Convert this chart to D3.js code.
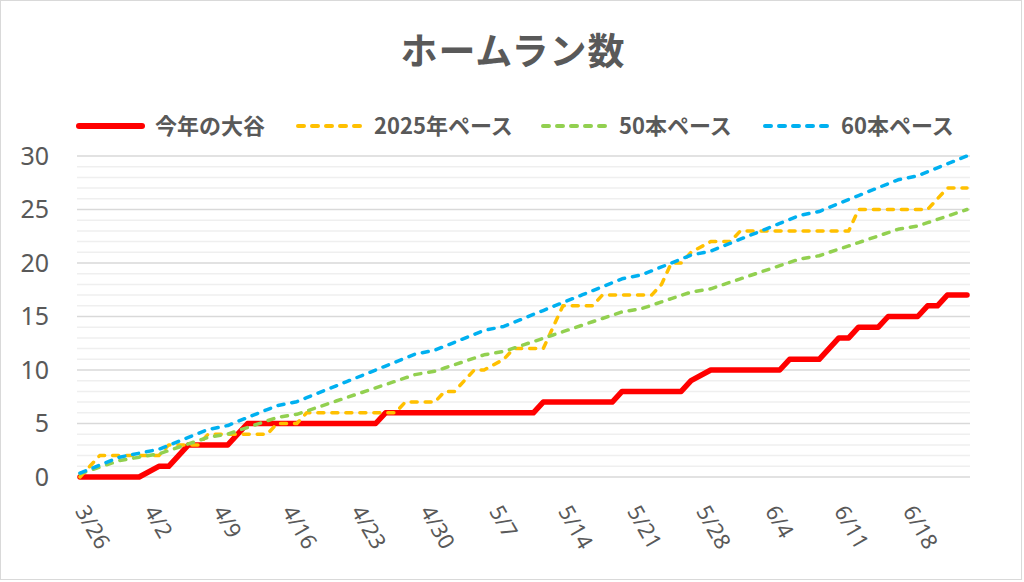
<!DOCTYPE html>
<html>
<head>
<meta charset="utf-8">
<script src="https://cdn.jsdelivr.net/npm/d3@7"></script>
<style>
  body { margin: 0; background: #fff; }
  svg { display: block; font-family: "Noto Sans CJK JP", "Noto Sans", sans-serif; }
</style>
</head>
<body>
<div id="chart"></div>
<script>
const title = 'ホームラン数';
const seriesNames = ['今年の大谷', '2025年ペース', '50本ペース', '60本ペース'];
const seriesColors = ['#ff0000', '#ffc000', '#92d050', '#00b0f0'];
const tickLabels = ['3/26', '4/2', '4/9', '4/16', '4/23', '4/30', '5/7', '5/14', '5/21', '5/28', '6/4', '6/11', '6/18'];
const yTicks = [0, 5, 10, 15, 20, 25, 30];

// game days (off days are skipped, the line just joins across them)
const gameDates = ['3/26', '3/27', '3/28', '3/29', '3/30', '4/1', '4/3', '4/4', '4/5', '4/6', '4/7', '4/8',
    '4/10', '4/11', '4/12', '4/13', '4/14', '4/15', '4/17', '4/18', '4/19', '4/20', '4/21', '4/22', '4/23',
    '4/24', '4/25', '4/26', '4/27', '4/28', '4/29', '5/1', '5/2', '5/3', '5/4', '5/5', '5/6', '5/8', '5/9',
    '5/10', '5/11', '5/12', '5/13', '5/14', '5/15', '5/16', '5/17', '5/18', '5/19', '5/20', '5/22', '5/23',
    '5/24', '5/25', '5/26', '5/27', '5/29', '5/30', '5/31', '6/1', '6/2', '6/3', '6/4', '6/5', '6/6', '6/7',
    '6/9', '6/10', '6/11', '6/12', '6/13', '6/14', '6/15', '6/16', '6/17', '6/19', '6/20', '6/21', '6/22',
    '6/23', '6/24'];

const otani = [0, 0, 0, 0, 0, 0, 1, 1, 2, 3, 3, 3, 3, 4, 5, 5, 5, 5,
    5, 5, 5, 5, 5, 5, 5, 5, 5, 6, 6, 6, 6, 6, 6, 6, 6, 6, 6,
    6, 6, 6, 6, 7, 7, 7, 7, 7, 7, 7, 7, 8, 8, 8, 8, 8, 8, 9,
    10, 10, 10, 10, 10, 10, 10, 10, 11, 11, 11, 12, 13, 13, 14, 14, 14, 15, 15,
    15, 16, 16, 17, 17, 17];

const pace2025 = [0, 1, 2, 2, 2, 2, 2, 3, 3, 3, 3, 4, 4, 4, 4, 4, 4, 5,
    5, 6, 6, 6, 6, 6, 6, 6, 6, 6, 6, 7, 7, 7, 8, 8, 9, 10, 10,
    11, 12, 12, 12, 12, 14, 16, 16, 16, 16, 17, 17, 17, 17, 17, 18, 20, 20, 21,
    22, 22, 22, 23, 23, 23, 23, 23, 23, 23, 23, 23, 23, 23, 25, 25, 25, 25, 25,
    25, 25, 26, 27, 27, 27];

const pace50 = [0.31, 0.62, 0.93, 1.23, 1.54, 1.85, 2.16, 2.47, 2.78, 3.09, 3.40, 3.70, 4.01, 4.32, 4.63,
    4.94, 5.25, 5.56, 5.86, 6.17, 6.48, 6.79, 7.10, 7.41, 7.72, 8.02, 8.33, 8.64, 8.95, 9.26, 9.57, 9.88,
    10.19, 10.49, 10.80, 11.11, 11.42, 11.73, 12.04, 12.35, 12.65, 12.96, 13.27, 13.58, 13.89, 14.20, 14.51,
    14.81, 15.12, 15.43, 15.74, 16.05, 16.36, 16.67, 16.98, 17.28, 17.59, 17.90, 18.21, 18.52, 18.83, 19.14,
    19.44, 19.75, 20.06, 20.37, 20.68, 20.99, 21.30, 21.60, 21.91, 22.22, 22.53, 22.84, 23.15, 23.46, 23.77,
    24.07, 24.38, 24.69, 25.00];

const pace60 = [0.37, 0.74, 1.11, 1.48, 1.85, 2.22, 2.59, 2.96, 3.33, 3.70, 4.07, 4.44, 4.81, 5.19, 5.56,
    5.93, 6.30, 6.67, 7.04, 7.41, 7.78, 8.15, 8.52, 8.89, 9.26, 9.63, 10.00, 10.37, 10.74, 11.11, 11.48, 11.85,
    12.22, 12.59, 12.96, 13.33, 13.70, 14.07, 14.44, 14.81, 15.19, 15.56, 15.93, 16.30, 16.67, 17.04, 17.41,
    17.78, 18.15, 18.52, 18.89, 19.26, 19.63, 20.00, 20.37, 20.74, 21.11, 21.48, 21.85, 22.22, 22.59, 22.96,
    23.33, 23.70, 24.07, 24.44, 24.81, 25.19, 25.56, 25.93, 26.30, 26.67, 27.04, 27.41, 27.78, 28.15, 28.52,
    28.89, 29.26, 29.63, 30.00];

const width = 1024;
const height = 582;
const plot = { left: 77, right: 970, top: 156, bottom: 477 };
const textColor = '#595959';

const parseDay = (s) => d3.utcParse('%Y/%m/%d')('2026/' + s);
const dates = gameDates.map(parseDay);

const svg = d3.select('#chart').append('svg').attr('width', width).attr('height', height);

svg.append('rect').attr('x', 0.5).attr('y', 0.5).attr('width', width - 3).attr('height', height - 3)
    .attr('fill', '#fff').attr('stroke', '#d9d9d9');

const xScale = d3.scaleUtc().domain(d3.extent(dates)).range([80, 967]);
const yScale = d3.scaleLinear().domain([0, 30]).range([plot.bottom, plot.top]);

// minor gridlines every 1, major every 5
const grid = svg.append('g').attr('class', 'grid');
grid.selectAll('line').data(d3.range(0, 31)).join('line')
    .attr('x1', plot.left).attr('x2', plot.right)
    .attr('y1', (d) => yScale(d)).attr('y2', (d) => yScale(d))
    .attr('stroke', (d) => d % 5 === 0 ? '#d9d9d9' : '#efefef')
    .attr('stroke-width', 1.5);

// y axis labels
const yAxis = svg.append('g').attr('transform', `translate(${plot.left - 28}, 0)`)
    .call(d3.axisLeft(yScale).tickValues(yTicks).tickSize(0).tickPadding(0));
yAxis.select('.domain').remove();
yAxis.selectAll('text').attr('fill', textColor).style('font-size', '25px')
    .style('font-family', '"Noto Sans", sans-serif');

// x axis labels, rotated
const xAxis = svg.append('g').attr('transform', `translate(0, ${plot.bottom})`)
    .call(d3.axisBottom(xScale).tickValues(tickLabels.map(parseDay)).tickSize(0)
        .tickFormat((d, i) => tickLabels[i]));
xAxis.select('.domain').remove();
xAxis.selectAll('text')
    .attr('fill', textColor).style('font-size', '22px')
    .style('font-family', '"Noto Sans", sans-serif')
    .attr('text-anchor', 'start').attr('dy', null).attr('y', 0)
    .attr('transform', 'translate(-6, 34) rotate(60)');

// lines
const allSeries = [otani, pace2025, pace50, pace60];
const line = d3.line().x((d) => xScale(d[0])).y((d) => yScale(d[1]));
const lines = svg.append('g').attr('class', 'lines');
allSeries.forEach((values, i) => {
    lines.append('path')
        .datum(values.map((v, j) => [dates[j], v]))
        .attr('d', line)
        .attr('fill', 'none')
        .attr('stroke', seriesColors[i])
        .attr('stroke-width', i === 0 ? 5.5 : 3.5)
        .attr('stroke-linejoin', 'round')
        .attr('stroke-linecap', 'round')
        .attr('stroke-dasharray', i === 0 ? null : '6,8');
});

// title
svg.append('text').attr('x', width / 2 + 1).attr('y', 65).attr('text-anchor', 'middle')
    .attr('fill', textColor).style('font-size', '37px').style('font-weight', 'bold')
    .style('letter-spacing', '1px')
    .text(title);

// legend
const legendX = [78, 297, 542, 764];
const legend = svg.append('g').attr('transform', 'translate(0, 126)');
seriesNames.forEach((name, i) => {
    const g = legend.append('g').attr('transform', `translate(${legendX[i]}, 0)`);
    g.append('line').attr('x1', 1).attr('x2', i === 0 ? 64 : 66).attr('y1', 0).attr('y2', 0)
        .attr('stroke', seriesColors[i])
        .attr('stroke-width', i === 0 ? 6 : 4)
        .attr('stroke-linecap', 'round')
        .attr('stroke-dasharray', i === 0 ? null : '6,8');
    g.append('text').attr('x', 77).attr('y', 0).attr('dy', '0.35em')
        .attr('fill', textColor).style('font-size', '22px').style('font-weight', 'bold')
        .text(name);
});
</script>
</body>
</html>
